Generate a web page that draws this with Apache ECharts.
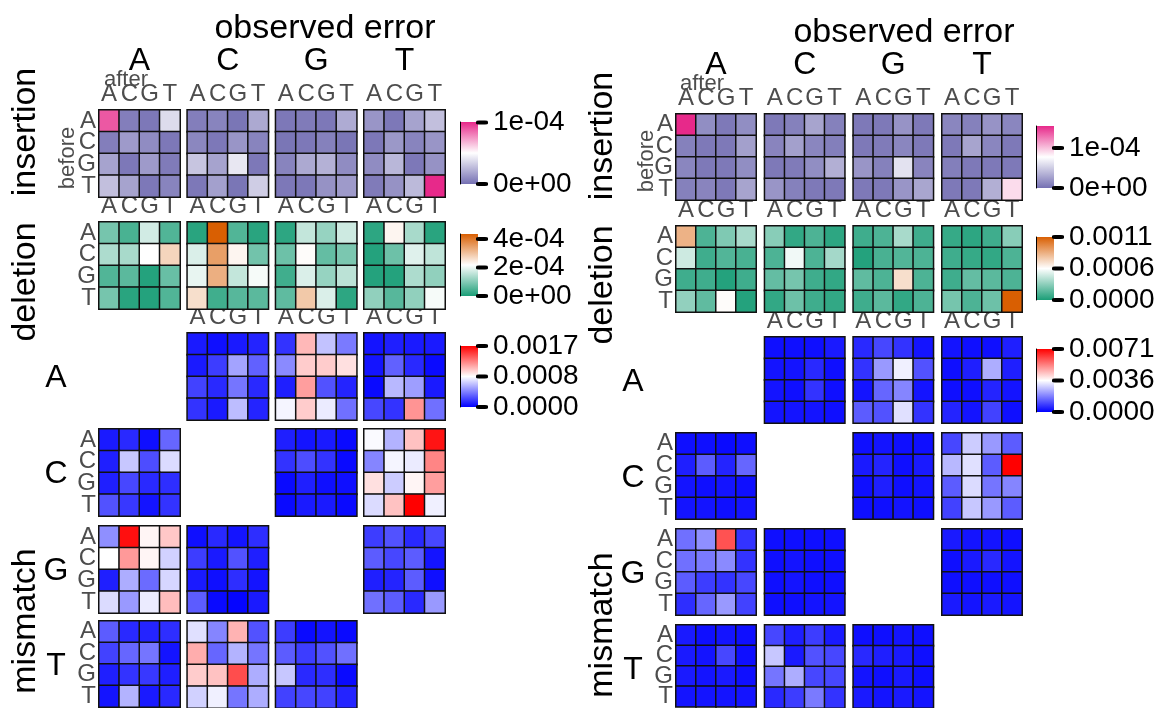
<!DOCTYPE html>
<html>
<head>
<meta charset="utf-8">
<script src="https://cdn.jsdelivr.net/npm/echarts@6/dist/echarts.min.js"></script>
<style>
  html, body { margin: 0; padding: 0; background: #ffffff; }
  #chart { width: 1160px; height: 708px; }
</style>
</head>
<body>
<div id="chart"></div>
<script>
// Error rates per context, in parts per million (1e-6).
// Each block: rows = base before, columns = base after (A, C, G, T).
// Each table: blocks for observed error A, C, G, T (null where no mismatch exists).
const BASES = ['A', 'C', 'G', 'T'];
const ROW_TYPES = ['insertion', 'deletion', 'mismatch'];

// ---- left panel ----
const LEFT_INSERTION = [
  [[90, 5, 3, 38], [5, 15, 10, 3], [18, 3, 15, 4], [28, 18, 3, 7]],
  [[5, 7, 2, 20], [8, 3, 13, 7], [30, 18, 42, 3], [3, 17, 2, 33]],
  [[3, 4, 3, 21], [2, 3, 6, 2], [7, 20, 23, 10], [3, 3, 12, 15]],
  [[13, 3, 18, 28], [3, 14, 7, 13], [10, 25, 3, 12], [4, 12, 26, 101]]
];
const LEFT_DELETION = [
  [[87, 44, 174, 52], [140, 135, 218, 275], [52, 61, 9, 74], [87, 13, 9, 52]],
  [[13, 436, 52, 13], [183, 349, 231, 83], [196, 327, 161, 209], [262, 35, 57, 61]],
  [[17, 161, 118, 170], [78, 222, 70, 92], [35, 183, 118, 153], [65, 292, 183, 17]],
  [[17, 231, 135, 13], [9, 78, 187, 157], [9, 9, 140, 113], [113, 57, 113, 209]]
];
const LEFT_MISMATCH_A = [
  null,
  [[84, 50, 84, 118], [84, 202, 538, 319], [218, 134, 386, 134], [168, 84, 622, 118]],
  [[168, 1075, 638, 403], [454, 1008, 1008, 941], [101, 1159, 269, 118], [806, 1008, 773, 370]],
  [[67, 101, 84, 84], [67, 319, 134, 34], [34, 605, 521, 84], [235, 168, 1193, 370]]
];
const LEFT_MISMATCH_C = [
  [[84, 134, 50, 336], [101, 655, 252, 722], [101, 235, 134, 151], [269, 185, 67, 168]],
  null,
  [[101, 67, 84, 34], [168, 252, 168, 34], [34, 101, 50, 50], [34, 84, 84, 34]],
  [[823, 588, 1042, 1613], [437, 806, 773, 1243], [941, 672, 874, 1159], [722, 1042, 1680, 790]]
];
const LEFT_MISMATCH_G = [
  [[470, 1630, 874, 1025], [840, 1176, 874, 689], [101, 571, 353, 706], [722, 504, 773, 1058]],
  [[50, 134, 67, 151], [202, 84, 269, 101], [84, 50, 151, 67], [302, 34, 17, 84]],
  null,
  [[202, 269, 134, 235], [302, 235, 302, 67], [101, 118, 302, 50], [370, 302, 134, 504]]
];
const LEFT_MISMATCH_T = [
  [[302, 134, 118, 151], [218, 336, 386, 67], [101, 168, 185, 101], [67, 588, 84, 134]],
  [[739, 437, 1092, 269], [1109, 336, 588, 386], [1008, 1042, 1428, 571], [689, 790, 386, 571]],
  [[202, 34, 67, 34], [302, 202, 269, 370], [655, 134, 151, 34], [218, 235, 218, 118]],
  null
];

// ---- right panel ----
const RIGHT_INSERTION = [
  [[155, 16, 5, 16], [9, 5, 5, 26], [12, 5, 5, 16], [9, 11, 5, 28]],
  [[5, 9, 28, 9], [11, 26, 12, 8], [5, 6, 16, 34], [20, 9, 5, 5]],
  [[5, 5, 19, 5], [5, 6, 12, 5], [20, 9, 62, 11], [5, 5, 20, 29]],
  [[12, 9, 19, 12], [5, 28, 12, 5], [8, 5, 5, 5], [5, 5, 34, 90]]
];
const RIGHT_DELETION = [
  [[836, 124, 249, 350], [441, 90, 136, 113], [90, 90, 23, 90], [294, 170, 576, 23]],
  [[271, 57, 124, 45], [124, 531, 124, 339], [181, 226, 90, 57], [57, 203, 90, 57]],
  [[90, 124, 350, 90], [23, 113, 136, 124], [170, 124, 678, 124], [90, 158, 57, 124]],
  [[68, 45, 90, 271], [90, 68, 57, 124], [90, 181, 158, 124], [226, 124, 203, 1130]]
];
const RIGHT_MISMATCH_A = [
  null,
  [[214, 214, 214, 356], [285, 285, 570, 214], [285, 214, 712, 214], [285, 285, 285, 214]],
  [[570, 997, 712, 285], [712, 2136, 3346, 1139], [285, 1424, 1851, 285], [1282, 1139, 3133, 712]],
  [[285, 214, 214, 427], [214, 427, 2421, 427], [214, 214, 498, 285], [498, 285, 926, 214]]
];
const RIGHT_MISMATCH_C = [
  [[214, 214, 142, 214], [427, 1282, 498, 1424], [285, 214, 285, 214], [285, 285, 214, 285]],
  null,
  [[214, 285, 214, 214], [356, 498, 214, 356], [214, 427, 214, 285], [214, 214, 285, 214]],
  [[997, 2848, 2136, 1282], [2563, 3133, 1282, 7120], [1282, 3062, 1638, 1851], [926, 2777, 2136, 1282]]
];
const RIGHT_MISMATCH_G = [
  [[1566, 1994, 5981, 712], [1566, 1709, 1922, 712], [1282, 854, 712, 997], [641, 1424, 2136, 926]],
  [[214, 214, 214, 214], [214, 285, 214, 214], [214, 285, 214, 214], [214, 214, 285, 285]],
  null,
  [[356, 285, 285, 214], [214, 356, 570, 285], [214, 214, 214, 214], [356, 285, 356, 285]]
];
const RIGHT_MISMATCH_T = [
  [[356, 214, 285, 214], [356, 285, 997, 214], [356, 285, 356, 214], [285, 285, 285, 285]],
  [[997, 427, 854, 356], [2777, 356, 1139, 997], [1638, 2421, 997, 997], [570, 854, 1709, 712]],
  [[214, 214, 285, 214], [570, 427, 356, 214], [285, 214, 356, 214], [356, 285, 356, 285]],
  null
];

// colour-bar breaks (ppm) and label styles for insertion, deletion, mismatch
const LEFT_BREAKS = [[0, 100], [0, 200, 400], [0, 840, 1680]];
const RIGHT_BREAKS = [[0, 100], [0, 565, 1130], [0, 3560, 7120]];
const LEFT_LABEL_STYLES = ['sci', 'sci', 'fixed'];
const RIGHT_LABEL_STYLES = ['sci', 'fixed', 'fixed'];

// ---------------- drawing ----------------
const FONT = '"Liberation Sans", Arial, Helvetica, sans-serif';
const PALETTES = [
  ['#7570b3', '#ffffff', '#e7298a'],
  ['#1b9e77', '#ffffff', '#d95f02'],
  ['#0000ff', '#ffffff', '#ff0000']
];

function sciLabel(ppm) {
  const v = ppm * 1e-6;
  if (v === 0) return '0e+00';
  const e = Math.floor(Math.log10(v) + 1e-9);
  const m = Math.round(v / Math.pow(10, e));
  const sign = e < 0 ? '-' : '+';
  const ae = Math.abs(e);
  return m + 'e' + sign + (ae < 10 ? '0' : '') + ae;
}
function fixedLabel(ppm) {
  return (ppm * 1e-6).toFixed(4);
}

const PANELS = [
  {
    rows: [LEFT_INSERTION, LEFT_DELETION, LEFT_MISMATCH_A, LEFT_MISMATCH_C, LEFT_MISMATCH_G, LEFT_MISMATCH_T],
    breaks: LEFT_BREAKS, labelStyles: LEFT_LABEL_STYLES,
    colX: [99, 187.3, 275.7, 364], blockW: 81,
    rowY: [110, 222, 333, 429, 526, 621], blockH: 87,
    barX: 460, barW: 18, barY: [122, 234, 346], barH: [62, 62, 61],
    title: [325, 29], letterY: 61,
    sideX: 26, sideY: [132, 282, 621], mmLetterX: 56,
    after: [126, 80], before: [68, 158]
  },
  {
    rows: [RIGHT_INSERTION, RIGHT_DELETION, RIGHT_MISMATCH_A, RIGHT_MISMATCH_C, RIGHT_MISMATCH_G, RIGHT_MISMATCH_T],
    breaks: RIGHT_BREAKS, labelStyles: RIGHT_LABEL_STYLES,
    colX: [676, 764.7, 853.3, 942], blockW: 80,
    rowY: [114, 226, 337, 433, 529, 625], blockH: 86,
    barX: 1036, barW: 18, barY: [126, 237, 349], barH: [62, 63, 63],
    title: [904, 33], letterY: 65,
    sideX: 603, sideY: [136, 285, 625], mmLetterX: 633,
    after: [702, 84], before: [647, 161]
  }
];

const grid = [], xAxis = [], yAxis = [], series = [], visualMap = [], graphic = [];

function addText(x, y, text, size, color, rotation) {
  graphic.push({
    type: 'text', x: x, y: y, rotation: rotation || 0, silent: true,
    style: { text: text, fill: color || '#000', font: size + 'px ' + FONT, align: 'center', verticalAlign: 'middle' }
  });
}

PANELS.forEach(function (P) {
  const kindSeries = [[], [], []];
  const kindValues = [[], [], []];

  P.rows.forEach(function (table, r) {
    const kind = r < 2 ? r : 2;
    table.forEach(function (block, c) {
      if (!block) return;
      const idx = grid.length;
      grid.push({ left: P.colX[c], top: P.rowY[r], width: P.blockW, height: P.blockH, show: false });
      const showX = r <= 2;
      const showY = c === 0;
      xAxis.push({
        type: 'category', data: BASES, gridIndex: idx, position: 'top',
        axisLine: { show: false }, axisTick: { show: false }, splitLine: { show: false },
        axisLabel: { show: showX, interval: 0, margin: 4, color: '#4d4d4d', fontSize: 24, fontFamily: FONT }
      });
      yAxis.push({
        type: 'category', data: BASES, gridIndex: idx, inverse: true,
        axisLine: { show: false }, axisTick: { show: false }, splitLine: { show: false },
        axisLabel: { show: showY, interval: 0, margin: 3, color: '#4d4d4d', fontSize: 24, lineHeight: 22, fontFamily: FONT }
      });
      const data = [];
      block.forEach(function (row, ri) {
        row.forEach(function (v, ci) {
          data.push([ci, ri, v]);
          kindValues[kind].push(v);
        });
      });
      series.push({
        type: 'heatmap', xAxisIndex: xAxis.length - 1, yAxisIndex: yAxis.length - 1,
        data: data, silent: true, progressive: 0,
        itemStyle: { borderColor: '#111', borderWidth: 1.5 },
        emphasis: { disabled: true }
      });
      kindSeries[kind].push(series.length - 1);
    });
  });

  // colour bars: gradient key plus an axis carrying the breaks
  for (let k = 0; k < 3; k++) {
    const vmax = Math.max.apply(null, kindValues[k]);
    visualMap.push({
      type: 'continuous', min: 0, max: vmax, seriesIndex: kindSeries[k],
      inRange: { color: PALETTES[k] }, show: false
    });
    const pal = PALETTES[k];
    graphic.push({
      type: 'rect', z: -1, silent: true,
      shape: { x: P.barX, y: P.barY[k], width: P.barW, height: P.barH[k] },
      style: {
        fill: new echarts.graphic.LinearGradient(0, 0, 0, 1, [
          { offset: 0, color: pal[2] }, { offset: 0.5, color: pal[1] }, { offset: 1, color: pal[0] }
        ])
      }
    });
    const gi = grid.length;
    grid.push({ left: P.barX, top: P.barY[k], width: P.barW, height: P.barH[k], show: false });
    xAxis.push({ type: 'value', gridIndex: gi, show: false, min: 0, max: 1 });
    const fmt = P.labelStyles[k] === 'sci' ? sciLabel : fixedLabel;
    yAxis.push({
      type: 'value', gridIndex: gi, position: 'right', min: 0, max: vmax,
      splitLine: { show: false },
      axisLine: { show: true, lineStyle: { color: '#000', width: 1 } },
      axisTick: { show: false },
      axisLabel: { show: true, customValues: P.breaks[k], margin: 15, color: '#000', fontSize: 28, fontFamily: FONT, formatter: fmt }
    });
    // break marks sitting on the bar's right edge
    series.push({
      type: 'scatter', xAxisIndex: xAxis.length - 1, yAxisIndex: yAxis.length - 1,
      data: P.breaks[k].map(function (b) { return [1, b]; }),
      symbol: 'roundRect', symbolSize: [12, 4], symbolOffset: [4, 0],
      itemStyle: { color: '#000', opacity: 1 }, clip: false, silent: true, z: 5
    });
  }

  // titles and facet labels
  addText(P.title[0], P.title[1], 'observed error', 34);
  BASES.forEach(function (b, c) {
    addText(P.colX[c] + P.blockW / 2, P.letterY, b, 32);
  });
  addText(P.sideX, P.sideY[0], ROW_TYPES[0], 34, '#000', Math.PI / 2);
  addText(P.sideX, P.sideY[1], ROW_TYPES[1], 34, '#000', Math.PI / 2);
  addText(P.sideX, P.sideY[2], ROW_TYPES[2], 34, '#000', Math.PI / 2);
  BASES.forEach(function (b, i) {
    addText(P.mmLetterX, P.rowY[2 + i] + P.blockH / 2 + 2, b, 32);
  });
  addText(P.after[0], P.after[1], 'after', 22, '#4d4d4d');
  addText(P.before[0], P.before[1], 'before', 22, '#4d4d4d', Math.PI / 2);
});

const chart = echarts.init(document.getElementById('chart'), null, { renderer: 'canvas' });
chart.setOption({
  animation: false,
  backgroundColor: '#ffffff',
  grid: grid, xAxis: xAxis, yAxis: yAxis,
  visualMap: visualMap, series: series, graphic: graphic
});
</script>
</body>
</html>
